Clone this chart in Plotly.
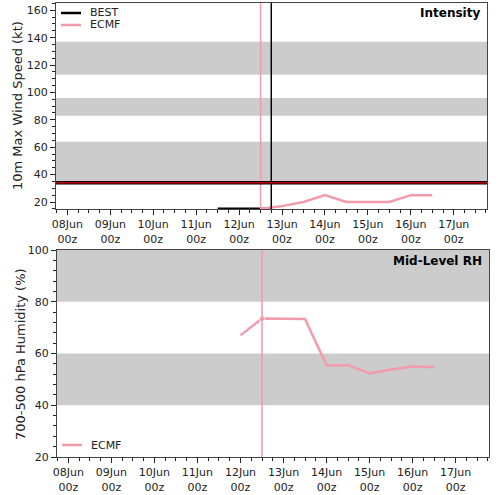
import plotly.graph_objects as go

# ---- data ----
best_times = ["2023-06-11 12:00", "2023-06-11 18:00", "2023-06-12 00:00",
              "2023-06-12 06:00", "2023-06-12 12:00", "2023-06-12 18:00"]
best_wind = [15, 15, 15, 15, 15, 15]

ecmf_wind_times = ["2023-06-12 12:00", "2023-06-13 00:00", "2023-06-13 12:00",
                   "2023-06-14 00:00", "2023-06-14 12:00", "2023-06-15 00:00",
                   "2023-06-15 12:00", "2023-06-16 00:00", "2023-06-16 12:00"]
ecmf_wind = [15, 17, 20, 25, 20, 20, 20, 25, 25]

ecmf_rh_times = ["2023-06-12 00:00", "2023-06-12 12:00", "2023-06-13 00:00",
                 "2023-06-13 12:00", "2023-06-14 00:00", "2023-06-14 12:00",
                 "2023-06-15 00:00", "2023-06-15 12:00", "2023-06-16 00:00",
                 "2023-06-16 12:00"]
ecmf_rh = [67.0, 73.5, 73.4, 73.3, 55.4, 55.5, 52.3, 53.8, 55.0, 54.7]

init_time = "2023-06-12 12:00"
best_last = "2023-06-12 18:00"

tick_vals = ["2023-06-%02d" % d for d in range(8, 18)]
tick_text = ["%02dJun<br>00z" % d for d in range(8, 18)]

wind_bands = [(34, 64), (83, 96), (113, 137)]
rh_bands = [(40, 60), (80, 100)]
ts_threshold = 34

x_range = ["2023-06-07 17:40", "2023-06-17 18:35"]

PINK = "#f29bab"
GRAY = "#cccccc"
FONT = "DejaVu Sans"
W, H = 500, 495


def px_x(p):
    return p / W


def px_y(p):
    return 1 - p / H


fig = go.Figure()

fig.add_trace(go.Scatter(x=best_times, y=best_wind, mode="lines", name="BEST",
                         line=dict(color="black", width=2.5), xaxis="x", yaxis="y",
                         cliponaxis=False, showlegend=False))
fig.add_trace(go.Scatter(x=ecmf_wind_times, y=ecmf_wind, mode="lines", name="ECMF",
                         line=dict(color=PINK, width=2.5), xaxis="x", yaxis="y",
                         showlegend=False))
fig.add_trace(go.Scatter(x=ecmf_rh_times, y=ecmf_rh, mode="lines+markers", name="ECMF",
                         line=dict(color=PINK, width=2.5),
                         marker=dict(size=[0 if t != init_time else 6 for t in ecmf_rh_times],
                                     color=PINK),
                         xaxis="x2", yaxis="y2", showlegend=False))

shapes = []
for lo, hi in wind_bands:
    shapes.append(dict(type="rect", xref="x domain", yref="y", x0=0, x1=1, y0=lo, y1=hi,
                       fillcolor=GRAY, line_width=0, layer="below"))
for lo, hi in rh_bands:
    shapes.append(dict(type="rect", xref="x2 domain", yref="y2", x0=0, x1=1, y0=lo, y1=hi,
                       fillcolor=GRAY, line_width=0, layer="below"))
# init / last-best markers
shapes.append(dict(type="line", xref="x", yref="y domain", x0=init_time, x1=init_time,
                   y0=0, y1=1, line=dict(color=PINK, width=1.5)))
shapes.append(dict(type="line", xref="x", yref="y domain", x0=best_last, x1=best_last,
                   y0=0, y1=1, line=dict(color="black", width=1.5)))
shapes.append(dict(type="line", xref="x2", yref="y2 domain", x0=init_time, x1=init_time,
                   y0=0, y1=1, line=dict(color=PINK, width=1.5)))
# 34 kt threshold
shapes.append(dict(type="line", xref="x domain", yref="y", x0=0, x1=1,
                   y0=ts_threshold, y1=ts_threshold, line=dict(color="black", width=3.5)))
shapes.append(dict(type="line", xref="x domain", yref="y", x0=0, x1=1,
                   y0=ts_threshold, y1=ts_threshold, line=dict(color="#c80000", width=1.5)))

# legend samples (drawn by hand to match the compact legend)
legend_items = [("BEST", "black", 61, 13), ("ECMF", PINK, 61, 25), ("ECMF", PINK, 62, 445)]
annotations = []
for label, col, lx, ly in legend_items:
    shapes.append(dict(type="line", xref="paper", yref="paper", x0=px_x(lx), x1=px_x(lx + 20),
                       y0=px_y(ly), y1=px_y(ly), line=dict(color=col, width=2.5)))
    annotations.append(dict(text=label, xref="paper", yref="paper", x=px_x(lx + 27), y=px_y(ly),
                            xanchor="left", yanchor="middle", showarrow=False,
                            font=dict(family=FONT, size=11, color="#222")))

annotations += [
    dict(text="<b>Intensity</b>", xref="paper", yref="paper", x=px_x(482), y=px_y(4),
         xanchor="right", yanchor="top", showarrow=False,
         font=dict(family=FONT, size=12, color="black")),
    dict(text="<b>Mid-Level RH</b>", xref="paper", yref="paper", x=px_x(484), y=px_y(252),
         xanchor="right", yanchor="top", showarrow=False,
         font=dict(family=FONT, size=12, color="black")),
    dict(text="10m Max Wind Speed (kt)", xref="paper", yref="paper", x=px_x(17),
         y=px_y(106), textangle=-90, showarrow=False, xanchor="center", yanchor="middle",
         font=dict(family=FONT, size=13, color="#222")),
    dict(text="700-500 hPa Humidity (%)", xref="paper", yref="paper", x=px_x(20),
         y=px_y(354), textangle=-90, showarrow=False, xanchor="center", yanchor="middle",
         font=dict(family=FONT, size=13, color="#222")),
]

xaxis_common = dict(type="date", range=x_range, tickvals=tick_vals, ticktext=tick_text,
                    ticks="outside", ticklen=5, tickcolor="#222", showgrid=False,
                    showline=True, mirror=True, linecolor="#444", linewidth=1,
                    zeroline=False, automargin=False,
                    tickfont=dict(family=FONT, size=11, color="#222"),
                    minor=dict(dtick=6 * 3600 * 1000, ticks="outside", ticklen=3,
                               tickcolor="#222", showgrid=False))
yaxis_common = dict(ticks="outside", ticklen=5, tickcolor="#222", showgrid=False,
                    showline=True, mirror=True, linecolor="#444", linewidth=1,
                    zeroline=False, automargin=False,
                    tickfont=dict(family=FONT, size=11, color="#222"))

fig.update_layout(
    width=W, height=H, margin=dict(l=0, r=0, t=0, b=0, autoexpand=False),
    paper_bgcolor="white", plot_bgcolor="white",
    font=dict(family=FONT, size=11, color="#222"),
    showlegend=False,
    xaxis=dict(domain=[px_x(56), px_x(487)], anchor="y", **xaxis_common),
    yaxis=dict(domain=[px_y(209), px_y(3)], anchor="x", range=[14.9, 165.3],
               tickvals=list(range(20, 161, 20)),
               minor=dict(dtick=5, ticks="outside", ticklen=3, tickcolor="#222"),
               **yaxis_common),
    xaxis2=dict(domain=[px_x(57), px_x(489)], anchor="y2", **xaxis_common),
    yaxis2=dict(domain=[px_y(457), px_y(250)], anchor="x2", range=[20, 100],
                tickvals=list(range(20, 101, 20)),
                minor=dict(dtick=4, ticks="outside", ticklen=3, tickcolor="#222"),
                **yaxis_common),
    shapes=shapes,
    annotations=annotations,
)

fig.write_html("out.html", config={"displayModeBar": False},
               post_script="document.body.style.margin='0';"
                           "document.body.style.overflow='hidden';")
